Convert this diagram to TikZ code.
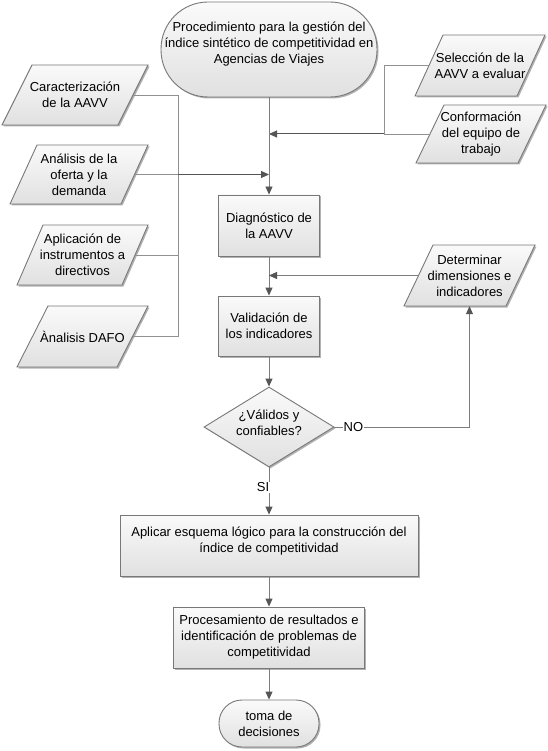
\documentclass[tikz,border=0pt]{standalone}
\usepackage{fontspec}
\setmainfont{Liberation Sans}
\usetikzlibrary{arrows.meta,shapes.geometric,shadows}
\definecolor{lineg}{RGB}{125,125,125}
\definecolor{lightg}{RGB}{145,145,145}
\definecolor{darkg}{RGB}{85,85,85}
\definecolor{edgeg}{RGB}{120,120,120}
\tikzset{
  flow/.style={draw=edgeg, line width=0.9pt, top color=gray!4, bottom color=gray!24,
    drop shadow={shadow xshift=1.5pt, shadow yshift=-1.5pt, opacity=0.3, fill=black}},
  procbox/.style={flow, rectangle, align=center, inner sep=2pt},
  term/.style={flow, rectangle, align=center, inner xsep=2pt},
  datafill/.style={flow},
  datatext/.style={rectangle, align=center, inner sep=0pt},
  decis/.style={flow, diamond, align=center, inner sep=0pt, shape aspect=1.625,
    minimum width=130pt, minimum height=80pt},
  conn/.style={draw=lineg, line width=0.9pt},
  feed/.style={draw=lightg, line width=0.9pt},
  darkline/.style={draw=darkg, line width=1pt},
  tip/.style={-{Triangle[length=8pt,width=7pt,color=darkg]}},
  lbl/.style={fill=white, inner sep=0.8pt},
}
\newcommand\mkdata[7]{%
  \path[datafill] (#2-#4/2,#3+#5/2) -- (#2-#4/2+#6,#3-#5/2) -- (#2+#4/2,#3-#5/2) -- (#2+#4/2-#6,#3+#5/2) -- cycle;
  \node[datatext, minimum width={(#4-#6)*1pt}, minimum height={#5*1pt}] (#1) at (#2,#3) {#7};
}
\begin{document}
\begin{tikzpicture}[x=1pt,y=-1pt,font=\fontsize{13}{16}\selectfont]
\path[fill=white, use as bounding box] (0,0) rectangle (547,751);

% main flow
\node[term, minimum width=216pt, minimum height=95pt, rounded corners=47pt, text depth=13.3pt] (start) at (269,49.5)
  {Procedimiento para la gestión del\\índice sintético de competitividad en\\Agencias de Viajes};
\node[procbox, minimum width=101pt, minimum height=61pt] (diag) at (269,225.5) {Diagnóstico de\\la AAVV};
\node[procbox, minimum width=101pt, minimum height=60pt] (val) at (269,326) {Validación de\\los indicadores};
\node[decis, text depth=9pt] (dec) at (269,427) {¿Válidos y\\confiables?};
\node[procbox, minimum width=298pt, minimum height=61pt, text depth=11.3pt] (apq) at (269,545.5)
  {Aplicar esquema lógico para la construcción del\\índice de competitividad};
\node[procbox, minimum width=191pt, minimum height=61pt] (pro) at (269,637.5)
  {Procesamiento de resultados e\\identificación de problemas de\\competitividad};
\node[term, minimum width=100pt, minimum height=47pt, rounded corners=23pt] (toma) at (269,723.5) {toma de\\decisiones};

% data shapes
\mkdata{car}{75}{95}{146}{60}{30}{Caracterización\\de la AAVV}
\mkdata{ana}{79}{174.5}{138}{59}{27}{Análisis de la\\oferta y la\\demanda}
\mkdata{apl}{82.5}{255}{131}{60}{26}{Aplicación de\\instrumentos a\\directivos}
\mkdata{daf}{82.5}{336.5}{131}{61}{31}{Ànalisis DAFO}
\mkdata{sel}{480}{65.5}{130}{61}{28}{Selección de la\\AAVV a evaluar}
\mkdata{con}{481}{134}{130}{58}{28}{Conformación\\del equipo de\\trabajo}
\mkdata{det}{469.5}{275.5}{131}{61}{29}{Determinar\\dimensiones e\\indicadores}

% buses
\coordinate (busx) at (178,0);
\coordinate (rbus) at (384,0);

% left inputs
\draw[feed] (car.east) -- (car.east -| busx) -- (daf.east -| busx) -- (daf.east);
\draw[feed] (apl.east) -- (apl.east -| busx);
\draw[feed] (ana.east) -- (ana.east -| busx);
\draw[darkline, tip] (ana.east -| busx) -- (ana.east -| start.south);

% right inputs
\draw[feed] (sel.west) -- (sel.west -| rbus) -- (con.west -| rbus) -- (con.west);
\draw[darkline, tip] (con.west -| rbus) -- (con.west -| start.south);

% main connectors
\draw[conn, tip] (start.south) -- (diag.north);
\draw[conn, tip] (diag.south) -- (val.north);
\draw[conn, tip] (det.west) -- (det.west -| val.north);
\draw[conn, tip] (val.south) -- (dec.north);
\draw[conn, tip] (dec.east) -| node[lbl, pos=0.07] (no) {NO} (det.south);
\draw[conn, tip] (dec.south) -- node[lbl, pos=0.42, xshift=-6pt] (si) {SI} (apq.north);
\draw[conn, tip] (apq.south) -- (pro.north);
\draw[conn, tip] (pro.south) -- (toma.north);
\end{tikzpicture}
\end{document}
